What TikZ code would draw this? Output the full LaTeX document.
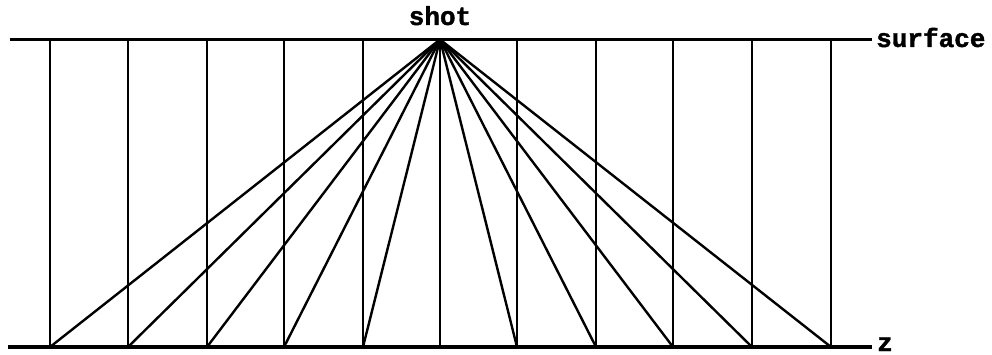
\documentclass[tikz,border=0pt]{standalone}
\usepackage{fontspec}
\newfontfamily\lblfont[FakeBold=1.5]{Liberation Mono Bold}
\begin{document}
\begin{tikzpicture}[x=1pt,y=-1pt,
  baseline/.style={line width=3.4pt},
  rule/.style={line width=2.4pt},
  ray/.style={line width=2.4pt},
  lbl/.style={font=\lblfont\fontsize{26}{26}\selectfont, inner sep=0pt}]
\useasboundingbox (0,0) rectangle (992,355);
% surface and z lines
\coordinate (sl) at (10,39.5);
\coordinate (sr) at (872,39.5);
\coordinate (zl) at (8,347);
\coordinate (zr) at (872,347);
\coordinate (shot) at (440,39.5);
\draw[baseline] (sl) -- (sr);
\draw[baseline] (zl) -- (zr);
% receivers
\foreach \i/\x in {1/50,2/128,3/207,4/284,5/363,6/440,7/517,8/596,9/673,10/752,11/831}{
  \coordinate (t\i) at (\x,39.5);
  \coordinate (b\i) at (\x,347);
  \draw[rule] (t\i) -- (b\i);
  \draw[ray] (shot) -- (b\i);
}
\node[lbl, anchor=base] (shotlbl) at (440,25) {shot};
\node[lbl, anchor=base west] (surflbl) at (876,47) {surface};
\node[lbl, anchor=base west] (zlbl) at (877,351) {z};
\end{tikzpicture}
\end{document}
